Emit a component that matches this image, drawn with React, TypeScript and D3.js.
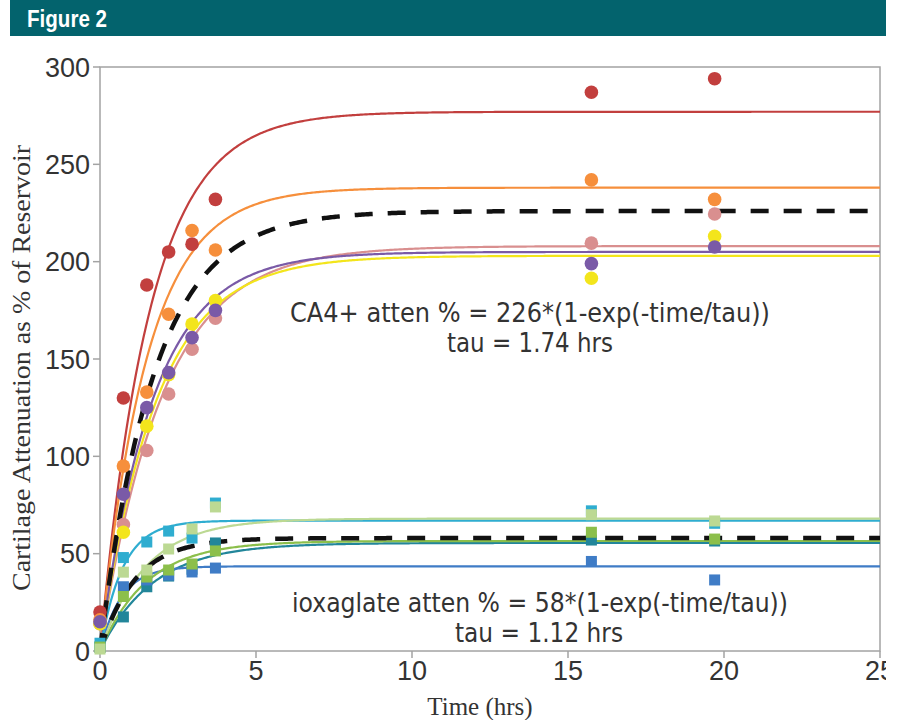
import * as d3 from "d3";

// sampling times (hrs)
const times = [0, 0.75, 1.5, 2.2, 2.95, 3.7, 15.75, 19.7];

// CA4+ samples (circles), % of reservoir
const ca4Names = ["red", "orange", "pink", "yellow", "purple"];
const ca4Colors = ["#c23f3e", "#f68f3c", "#d98f8f", "#f3e51c", "#7a5aa7"];
const ca4Values = [
  [20, 130, 188, 205, 209, 232, 287, 294],
  [16, 95, 133, 173, 216, 206, 242, 232],
  [14, 65, 103, 132, 155, 171, 209.5, 224.5],
  [14, 61, 115.5, 142, 168, 180, 191.5, 213],
  [15, 80.5, 125, 143, 161, 175, 199, 207.5],
];
// per-sample fits: plateau, tau
const ca4Plateau = [277, 238, 208, 203, 205];
const ca4Tau = [1.6, 1.5, 2.0, 1.8, 1.7];

// ioxaglate samples (squares)
const ioxNames = ["darkTeal", "blue", "cyan", "green", "lightGreen"];
const ioxColors = ["#22869a", "#3f7cc6", "#2fadd0", "#8cbf4b", "#bcd993"];
const ioxValues = [
  [2, 17.5, 33, 38.5, 42, 55.5, 57, 56.5],
  [2, 33, 36.5, 39, 40.6, 42.6, 46, 36.5],
  [4, 48, 56, 61.6, 58, 76, 72, 65.6],
  [2, 28, 38, 41.6, 44.7, 51.4, 61, 57.5],
  [1, 40.5, 41.6, 52.4, 62.7, 74, 70, 66.8],
];
const ioxPlateau = [55.5, 43.5, 67, 56.5, 68];
const ioxTau = [1.7, 0.68, 0.72, 1.5, 1.45];

// mean fits (dashed)
const meanPlateau = [226, 58];
const meanTau = [1.74, 1.12];

const xTicks = [0, 5, 10, 15, 20, 25];
const yTicks = [0, 50, 100, 150, 200, 250, 300];

export default function App() {
  const width = 897;
  const height = 720;

  const x = d3.scaleLinear().domain([0, 25]).range([100, 880]);
  const y = d3.scaleLinear().domain([0, 300]).range([651, 67]);

  const grid = d3.range(0, 25.001, 0.05);
  const curve = (a: number, tau: number) =>
    d3
      .line<number>()
      .x((t) => x(t))
      .y((t) => y(a * (1 - Math.exp(-t / tau))))(grid) || "";

  const tickFont = "'Liberation Sans', Arial, sans-serif";
  const noteFont = "'DejaVu Sans', Verdana, sans-serif";
  const serif = "'Liberation Serif', 'Times New Roman', serif";

  return (
    <svg
      width={width}
      height={height}
      style={{ position: "absolute", left: 0, top: 0, background: "#fff" }}
    >
      <defs>
        <clipPath id="page">
          <rect x={0} y={0} width={886} height={height} />
        </clipPath>
      </defs>
      <g clipPath="url(#page)">
        {/* header bar */}
        <rect x={10} y={0} width={876} height={36} fill="#03636d" />
        <text
          x={27}
          y={27}
          fill="#fff"
          fontFamily={tickFont}
          fontWeight="bold"
          fontSize={23}
          textLength={80}
          lengthAdjust="spacingAndGlyphs"
        >
          Figure 2
        </text>

        {/* frame */}
        <rect
          x={x(0)}
          y={y(300)}
          width={x(25) - x(0)}
          height={y(0) - y(300)}
          fill="none"
          stroke="#a3a3a3"
          strokeWidth={1.5}
        />

        {/* ticks */}
        {yTicks.map((v) => (
          <g key={"y" + v}>
            <line x1={x(0) - 7} x2={x(0)} y1={y(v)} y2={y(v)} stroke="#a3a3a3" strokeWidth={1.5} />
            <text
              x={x(0) - 10}
              y={y(v)}
              dy="0.36em"
              textAnchor="end"
              fontFamily={tickFont}
              fontSize={27}
              fill="#333"
            >
              {v}
            </text>
          </g>
        ))}
        {xTicks.map((v) => (
          <g key={"x" + v}>
            <line x1={x(v)} x2={x(v)} y1={y(0)} y2={y(0) + 7} stroke="#a3a3a3" strokeWidth={1.5} />
            <text
              x={x(v)}
              y={y(0) + 29}
              textAnchor="middle"
              fontFamily={tickFont}
              fontSize={27}
              fill="#333"
            >
              {v}
            </text>
          </g>
        ))}

        {/* axis titles */}
        <text
          x={480}
          y={715}
          textAnchor="middle"
          fontFamily={serif}
          fontSize={25}
          fill="#333"
        >
          Time (hrs)
        </text>
        <text
          transform={`translate(30, 368) rotate(-90)`}
          textAnchor="middle"
          fontFamily={serif}
          fontSize={25}
          fill="#333"
          textLength={446}
          lengthAdjust="spacingAndGlyphs"
        >
          Cartilage Attenuation as % of Reservoir
        </text>

        {/* fitted curves */}
        {ca4Names.map((n, i) => (
          <path key={"cc" + n} d={curve(ca4Plateau[i], ca4Tau[i])} fill="none" stroke={ca4Colors[i]} strokeWidth={2.2} />
        ))}
        {ioxNames.map((n, i) => (
          <path key={"ic" + n} d={curve(ioxPlateau[i], ioxTau[i])} fill="none" stroke={ioxColors[i]} strokeWidth={2.2} />
        ))}
        {meanPlateau.map((a, i) => (
          <path
            key={"m" + i}
            d={curve(a, meanTau[i])}
            fill="none"
            stroke="#111"
            strokeWidth={4.5}
            strokeDasharray="18 15"
          />
        ))}

        {/* data points */}
        {ioxNames.map((n, i) =>
          ioxValues[i].map((v, j) => (
            <rect
              key={n + j}
              x={x(times[j]) - 5.5}
              y={y(v) - 5.5}
              width={11}
              height={11}
              fill={ioxColors[i]}
            />
          ))
        )}
        {ca4Names.map((n, i) =>
          ca4Values[i].map((v, j) => (
            <circle key={n + j} cx={x(times[j])} cy={y(v)} r={6.8} fill={ca4Colors[i]} />
          ))
        )}

        {/* annotations */}
        <g fontFamily={noteFont} fontSize={26} fill="#333" textAnchor="middle">
          <text x={530} y={322} textLength={480} lengthAdjust="spacingAndGlyphs">
            CA4+  atten % = 226*(1-exp(-time/tau))
          </text>
          <text x={530} y={352} textLength={166} lengthAdjust="spacingAndGlyphs">
            tau = 1.74 hrs
          </text>
          <text x={540} y={612} textLength={496} lengthAdjust="spacingAndGlyphs">
            ioxaglate atten % = 58*(1-exp(-time/tau))
          </text>
          <text x={539} y={642} textLength={168} lengthAdjust="spacingAndGlyphs">
            tau = 1.12 hrs
          </text>
        </g>
      </g>
    </svg>
  );
}
